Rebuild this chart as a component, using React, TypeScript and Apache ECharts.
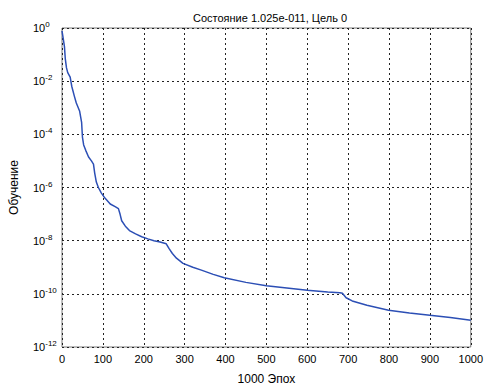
import React, { useEffect, useRef } from "react";
import * as echarts from "echarts";

const titleText = "Состояние 1.025e-011, Цель 0";
const xName = "1000 Эпох";
const yName = "Обучение";

const epochs = [
  0, 3, 6, 8, 11, 14, 20, 24, 30, 35, 43, 48, 50, 53, 58, 65, 72, 77, 80, 84,
  89, 96, 105, 118, 130, 138, 142, 146, 155, 165, 180, 195, 210, 225, 240, 255,
  262, 270, 280, 296, 320, 341, 370, 397, 450, 500, 550, 600, 650, 680, 686,
  695, 710, 746, 799, 850, 900, 950, 1000,
];
const performance = [
  7.76e-1, 3.98e-1, 2.0e-1, 7.08e-2, 3.16e-2, 2.09e-2, 1.41e-2, 6.3e-3, 2.8e-3,
  1.5e-3, 7.6e-4, 2.8e-4, 7.9e-5, 4.0e-5, 2.5e-5, 1.4e-5, 1.0e-5, 7.6e-6,
  3.5e-6, 1.6e-6, 1.0e-6, 6.3e-7, 4.0e-7, 2.4e-7, 1.9e-7, 1.6e-7, 1.0e-7,
  5.6e-8, 3.5e-8, 2.4e-8, 1.8e-8, 1.4e-8, 1.17e-8, 1.0e-8, 8.9e-9, 7.6e-9,
  5.0e-9, 3.3e-9, 2.2e-9, 1.4e-9, 1.0e-9, 7.8e-10, 5.4e-10, 4.0e-10, 2.7e-10,
  2.0e-10, 1.66e-10, 1.35e-10, 1.17e-10, 1.1e-10, 1.05e-10, 7.1e-11, 5.4e-11,
  3.7e-11, 2.4e-11, 1.9e-11, 1.55e-11, 1.29e-11, 1.025e-11,
];

const FONT = "Liberation Sans, Arial, sans-serif";

export default function App() {
  const ref = useRef<HTMLDivElement>(null);
  useEffect(() => {
    if (!ref.current) return;
    const chart = echarts.init(ref.current, null, { renderer: "svg" });
    const gridLine = { show: true, lineStyle: { color: "#222", type: [2, 3] as any, width: 1 } };
    chart.setOption({
      animation: false,
      backgroundColor: "#fff",
      title: {
        text: titleText,
        left: 265,
        textAlign: "center",
        top: 7,
        textStyle: { fontFamily: FONT, fontSize: 11, fontWeight: "normal", color: "#000" },
      },
      grid: {
        left: 60,
        right: 15,
        top: 28,
        bottom: 37,
        show: true,
        borderColor: "#7a7a7a",
        borderWidth: 1,
        backgroundColor: "#fff",
      },
      xAxis: {
        type: "value",
        min: 0,
        max: 1000,
        interval: 100,
        name: xName,
        nameLocation: "middle",
        nameGap: 26,
        nameTextStyle: { fontFamily: FONT, fontSize: 12, color: "#000" },
        axisLine: { show: false },
        axisTick: { show: false },
        axisLabel: {
          fontFamily: FONT,
          fontSize: 11,
          color: "#000",
          margin: 6,
          formatter: (v: number) => String(v),
        },
        splitLine: gridLine,
      },
      yAxis: {
        type: "log",
        logBase: 10,
        min: 1e-12,
        max: 1,
        interval: 2,
        name: yName,
        nameLocation: "middle",
        nameGap: 42,
        nameRotate: 90,
        nameTextStyle: { fontFamily: FONT, fontSize: 12, color: "#000" },
        axisLine: { show: false },
        axisTick: { show: false },
        axisLabel: {
          margin: 29,
          align: "left",
          formatter: (v: number) => {
            const e = Math.round(Math.log10(v));
            return `{b|10}{s|${e}}`;
          },
          rich: {
            b: { fontFamily: FONT, fontSize: 11, color: "#000" },
            s: { fontFamily: FONT, fontSize: 8, color: "#000", verticalAlign: "top", padding: [0, 0, 7, 0] },
          },
        },
        splitLine: gridLine,
      },
      series: [
        {
          type: "line",
          data: epochs.map((e, i) => [e, performance[i]]),
          showSymbol: false,
          lineStyle: { color: "#2c4fb5", width: 1.5 },
          silent: true,
        },
      ],
    });
    return () => chart.dispose();
  }, []);
  return (
    <div
      ref={ref}
      style={{ position: "fixed", left: 0, top: 0, width: 486, height: 390, background: "#fff" }}
    />
  );
}
